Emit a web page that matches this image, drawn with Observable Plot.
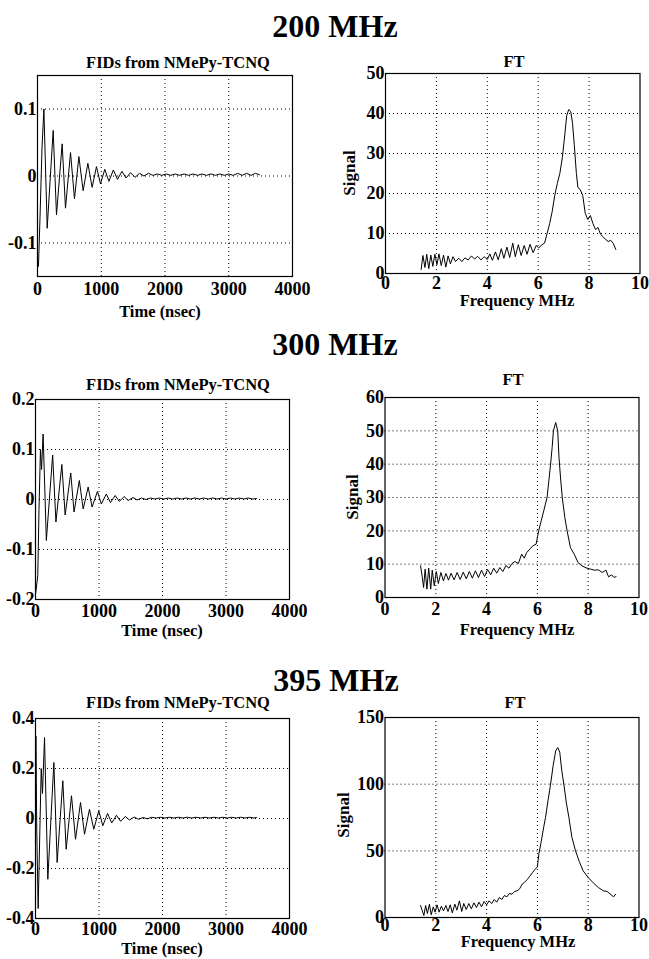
<!DOCTYPE html>
<html>
<head>
<meta charset="utf-8">
<script src="https://cdn.jsdelivr.net/npm/d3@7"></script>
<script src="https://cdn.jsdelivr.net/npm/@observablehq/plot@0.6"></script>
<style>
  html, body { margin: 0; padding: 0; background: #fff; }
  #page { position: relative; width: 649px; height: 959px; background: #fff; overflow: hidden; }
  .panelwrap { position: absolute; }
  .panelwrap svg { overflow: visible; background: transparent; }
  .panelwrap text { font-family: "Liberation Serif", "Times New Roman", serif; font-weight: bold; font-size: 18px; fill: #000; }
  #overlay { position: absolute; left: 0; top: 0; pointer-events: none; }
</style>
</head>
<body>
<div id="page"></div>
<script>
// ---------- DATA ----------
const rowTitles = ["200 MHz", "300 MHz", "395 MHz"];
const fidTitle = "FIDs from NMePy-TCNQ";
const ftTitle = "FT";
const fidXLabel = "Time (nsec)";
const ftXLabel = "Frequency MHz";
const ftYLabel = "Signal";

const fidXTicks = [0, 1000, 2000, 3000, 4000];
const ftXTicks = [0, 2, 4, 6, 8, 10];
const fid200YTicks = [-0.1, 0, 0.1];
const fid300YTicks = [-0.2, -0.1, 0, 0.1, 0.2];
const fid395YTicks = [-0.4, -0.2, 0, 0.2, 0.4];
const ft200YTicks = [0, 10, 20, 30, 40, 50];
const ft300YTicks = [0, 10, 20, 30, 40, 50, 60];
const ft395YTicks = [0, 50, 100, 150];

// FID 200 MHz: time (ns) and amplitude
const fid200T = [0, 15, 40, 70, 100, 152, 246, 298, 387, 439, 518, 580, 649, 716, 790, 857, 925, 988, 1055, 1120, 1190, 1255, 1325, 1390, 1460, 1530, 1600, 1670, 1740, 1810, 1880, 1950, 2020, 2090, 2160, 2230, 2300, 2370, 2440, 2510, 2580, 2650, 2720, 2790, 2860, 2930, 3000, 3070, 3140, 3210, 3280, 3350, 3420, 3480];
const fid200V = [-0.13, -0.135, -0.06, 0.04, 0.10, -0.078, 0.068, -0.058, 0.048, -0.048, 0.035, -0.034, 0.029, -0.022, 0.019, -0.017, 0.014, -0.012, 0.010, -0.008, 0.009, -0.005, 0.007, -0.003, 0.005, -0.002, 0.004, 0.000, 0.004, 0.001, 0.003, 0.001, 0.003, 0.001, 0.003, 0.001, 0.003, 0.001, 0.003, 0.001, 0.003, 0.001, 0.003, 0.001, 0.003, 0.001, 0.003, 0.001, 0.004, 0.001, 0.004, 0.001, 0.004, 0.002];

// FID 300 MHz
const fid300T = [0, 15, 36, 55, 78, 95, 120, 171, 270, 322, 415, 467, 555, 607, 690, 751, 829, 891, 975, 1037, 1115, 1180, 1255, 1320, 1395, 1460, 1535, 1600, 1670, 1740, 1810, 1880, 1950, 2020, 2090, 2160, 2230, 2300, 2370, 2440, 2510, 2580, 2650, 2720, 2790, 2860, 2930, 3000, 3070, 3140, 3210, 3280, 3350, 3420, 3480];
const fid300V = [-0.19, -0.175, -0.152, -0.02, 0.10, 0.06, 0.131, -0.082, 0.089, -0.045, 0.070, -0.031, 0.053, -0.025, 0.038, -0.019, 0.025, -0.015, 0.016, -0.009, 0.011, -0.006, 0.008, -0.004, 0.006, -0.002, 0.004, -0.001, 0.003, 0.000, 0.003, 0.001, 0.003, 0.001, 0.003, 0.001, 0.003, 0.001, 0.003, 0.001, 0.003, 0.001, 0.003, 0.001, 0.003, 0.001, 0.003, 0.001, 0.003, 0.001, 0.003, 0.001, 0.003, 0.001, 0.002];

// FID 395 MHz
const fid395T = [0, 6, 20, 42, 90, 110, 142, 194, 289, 341, 430, 483, 567, 630, 709, 772, 850, 918, 997, 1060, 1135, 1200, 1275, 1340, 1415, 1480, 1555, 1620, 1695, 1760, 1830, 1900, 1970, 2040, 2110, 2180, 2250, 2320, 2390, 2460, 2530, 2600, 2670, 2740, 2810, 2880, 2950, 3020, 3090, 3160, 3230, 3300, 3370, 3440, 3480];
const fid395V = [0.0, 0.33, -0.05, -0.36, 0.20, 0.10, 0.324, -0.243, 0.224, -0.176, 0.151, -0.123, 0.091, -0.083, 0.064, -0.063, 0.037, -0.043, 0.031, -0.029, 0.020, -0.018, 0.013, -0.011, 0.008, -0.006, 0.006, -0.003, 0.004, -0.001, 0.005, 0.002, 0.005, 0.002, 0.005, 0.002, 0.005, 0.002, 0.005, 0.002, 0.005, 0.002, 0.005, 0.002, 0.005, 0.002, 0.005, 0.002, 0.005, 0.002, 0.005, 0.002, 0.005, 0.002, 0.004];

// FT 200 MHz: frequency (MHz) and signal
const ft200F = [1.40, 1.47, 1.55, 1.62, 1.70, 1.78, 1.86, 1.94, 2.02, 2.10, 2.19, 2.28, 2.37, 2.46, 2.55, 2.65, 2.75, 2.88, 3.00, 3.12, 3.25, 3.38, 3.50, 3.62, 3.75, 3.88, 4.00, 4.10, 4.20, 4.32, 4.43, 4.55, 4.65, 4.77, 4.88, 5.00, 5.10, 5.22, 5.33, 5.45, 5.56, 5.68, 5.80, 5.92, 6.02, 6.15, 6.25, 6.35, 6.45, 6.55, 6.65, 6.75, 6.85, 6.95, 7.05, 7.12, 7.20, 7.28, 7.35, 7.42, 7.50, 7.56, 7.65, 7.75, 7.85, 7.95, 8.05, 8.15, 8.25, 8.35, 8.45, 8.55, 8.65, 8.75, 8.85, 8.95, 9.05];
const ft200S = [1.0, 4.5, 1.5, 4.8, 1.2, 4.6, 1.8, 4.8, 2.2, 4.9, 2.0, 4.6, 1.6, 4.4, 2.4, 4.2, 3.0, 3.8, 3.0, 3.9, 3.4, 4.4, 3.6, 4.3, 3.4, 4.2, 3.5, 4.9, 3.3, 5.4, 3.4, 6.2, 3.8, 6.6, 4.0, 7.6, 4.2, 7.2, 4.5, 7.0, 4.8, 7.3, 5.2, 7.0, 6.4, 7.2, 7.6, 10, 12.5, 15.5, 19.5, 22.5, 25, 29, 35, 39.5, 41, 40.5, 37.5, 32, 25, 21.5, 21, 19.5, 15, 13.5, 14.5, 12.5, 11, 11.5, 9.8, 9.2, 8.5, 8.0, 8.3, 7.5, 6.0];

// FT 300 MHz
const ft300F = [1.40, 1.47, 1.52, 1.58, 1.65, 1.72, 1.80, 1.86, 1.94, 2.02, 2.10, 2.20, 2.30, 2.40, 2.50, 2.60, 2.72, 2.84, 2.96, 3.08, 3.20, 3.32, 3.44, 3.56, 3.68, 3.80, 3.92, 4.04, 4.16, 4.28, 4.40, 4.52, 4.64, 4.76, 4.88, 5.00, 5.12, 5.25, 5.38, 5.48, 5.58, 5.70, 5.82, 5.95, 6.05, 6.15, 6.25, 6.38, 6.45, 6.52, 6.58, 6.63, 6.72, 6.80, 6.85, 6.92, 6.98, 7.08, 7.17, 7.30, 7.45, 7.60, 7.75, 7.95, 8.10, 8.25, 8.40, 8.55, 8.70, 8.80, 8.92, 9.02, 9.10];
const ft300S = [9.5, 6, 3, 8.5, 2.5, 8.8, 2.5, 8.2, 3.5, 7.8, 4.2, 7.5, 5.0, 7.2, 5.2, 7.3, 5.3, 7.5, 5.4, 7.6, 5.6, 7.8, 5.8, 8.0, 6.0, 8.2, 6.3, 8.4, 6.8, 8.8, 7.3, 9.0, 7.8, 9.6, 8.8, 10.2, 10.8, 10.2, 13, 11.8, 13.5, 14.5, 15.5, 16, 20, 23, 26, 30, 35, 40, 45, 50, 52.5, 50, 42, 35, 30, 24, 20, 15, 13, 10.5, 9.5, 8.8, 8.5, 8.2, 8.3, 7.5, 8.2, 6.2, 6.8, 6.0, 6.3];

// FT 395 MHz
const ft395F = [1.40, 1.47, 1.53, 1.60, 1.67, 1.75, 1.82, 1.90, 1.97, 2.05, 2.13, 2.22, 2.30, 2.40, 2.48, 2.57, 2.65, 2.75, 2.83, 2.93, 3.02, 3.10, 3.20, 3.30, 3.40, 3.50, 3.60, 3.70, 3.80, 3.90, 4.00, 4.10, 4.20, 4.30, 4.40, 4.50, 4.60, 4.70, 4.80, 4.90, 5.00, 5.10, 5.20, 5.30, 5.40, 5.50, 5.60, 5.70, 5.80, 5.90, 6.00, 6.06, 6.15, 6.25, 6.32, 6.42, 6.52, 6.62, 6.72, 6.80, 6.88, 6.96, 7.04, 7.14, 7.24, 7.36, 7.50, 7.65, 7.80, 8.00, 8.20, 8.40, 8.60, 8.75, 8.90, 9.00, 9.08];
const ft395S = [9, 5, 1.5, 9, 3, 10, 2, 8, 4, 9.5, 4, 8.5, 5, 9, 4.5, 9.5, 3.5, 10, 5.5, 12.5, 4.5, 10.5, 6, 10.5, 6.5, 11, 7.5, 11.5, 8, 12, 9.5, 12.5, 10.5, 13.5, 11.5, 15, 13.5, 16.5, 15.5, 18, 17.5, 19.5, 20, 21.5, 25, 26.5, 28.5, 31, 33.5, 36, 38, 48, 57, 68, 75, 88, 100, 114, 125, 127.5, 124, 110, 100, 86, 75, 60, 50, 42, 35, 30, 26, 22.5, 20, 19.5, 17, 15.5, 17.5];

// ---------- DRAWING ----------
const page = document.getElementById("page");
const zip = (a, b) => a.map((v, i) => ({x: v, y: b[i]}));

function panel(opts) {
  const {x0, x1, y0, y1, svgLeft, svgWidth, xDomain, xTicks, yDomain, yTicks, data, xPad} = opts;
  const mt = 12, mb = 30;
  const dotted = {stroke: "#000", strokeWidth: 1, strokeDasharray: "1,3"};
  const chart = Plot.plot({
    width: svgWidth,
    height: (y1 - y0) + mt + mb,
    marginLeft: x0 - svgLeft,
    marginRight: svgLeft + svgWidth - x1,
    marginTop: mt,
    marginBottom: mb,
    style: {background: "transparent", overflow: "visible"},
    x: {domain: xDomain, ticks: xTicks, tickFormat: d => String(d), tickSize: 0, tickPadding: xPad, label: null},
    y: {domain: yDomain, ticks: yTicks, tickFormat: d => String(d), tickSize: 0, tickPadding: 1, label: null},
    marks: [
      Plot.ruleX(xTicks.slice(1, -1), dotted),
      Plot.ruleY(yTicks.filter(v => v > yDomain[0] && v < yDomain[1]), dotted),
      Plot.line(data, {x: "x", y: "y", stroke: "#000", strokeWidth: 1}),
      Plot.frame({stroke: "#000", strokeWidth: 1.2})
    ]
  });
  const wrap = document.createElement("div");
  wrap.className = "panelwrap";
  wrap.style.left = svgLeft + "px";
  wrap.style.top = (y0 - mt) + "px";
  wrap.appendChild(chart);
  page.appendChild(wrap);
}

// Row 1
panel({x0: 385, x1: 639.5, y0: 73, y1: 273, svgLeft: 320, svgWidth: 329, xDomain: [0, 10], xTicks: ftXTicks, yDomain: [0, 50], yTicks: ft200YTicks, data: zip(ft200F, ft200S), xPad: 3});
panel({x0: 37, x1: 292, y0: 75, y1: 276, svgLeft: 0, svgWidth: 320, xDomain: [0, 4000], xTicks: fidXTicks, yDomain: [-0.15, 0.15], yTicks: fid200YTicks, data: zip(fid200T, fid200V), xPad: 6});
// Row 2
panel({x0: 35, x1: 289, y0: 399, y1: 599, svgLeft: 0, svgWidth: 320, xDomain: [0, 4000], xTicks: fidXTicks, yDomain: [-0.2, 0.2], yTicks: fid300YTicks, data: zip(fid300T, fid300V), xPad: 5});
panel({x0: 384.5, x1: 638.5, y0: 397, y1: 597, svgLeft: 320, svgWidth: 329, xDomain: [0, 10], xTicks: ftXTicks, yDomain: [0, 60], yTicks: ft300YTicks, data: zip(ft300F, ft300S), xPad: 5});
// Row 3
panel({x0: 35, x1: 289, y0: 718, y1: 918, svgLeft: 0, svgWidth: 320, xDomain: [0, 4000], xTicks: fidXTicks, yDomain: [-0.4, 0.4], yTicks: fid395YTicks, data: zip(fid395T, fid395V), xPad: 4});
panel({x0: 384.5, x1: 638.5, y0: 717, y1: 917, svgLeft: 320, svgWidth: 329, xDomain: [0, 10], xTicks: ftXTicks, yDomain: [0, 150], yTicks: ft395YTicks, data: zip(ft395F, ft395S), xPad: 1});

// Titles and axis labels
const labels = [
  {t: rowTitles[0], x: 335, y: 37, s: 32},
  {t: fidTitle, x: 178, y: 68, s: 16.5},
  {t: ftTitle, x: 514, y: 67, s: 16.5},
  {t: fidXLabel, x: 160, y: 317, s: 16.5},
  {t: ftXLabel, x: 517, y: 306, s: 16.5},
  {t: ftYLabel, x: 355, y: 173, s: 17, r: true},

  {t: rowTitles[1], x: 335, y: 355, s: 32},
  {t: fidTitle, x: 178, y: 390, s: 16.5},
  {t: ftTitle, x: 513, y: 385, s: 16.5},
  {t: fidXLabel, x: 162, y: 636, s: 16.5},
  {t: ftXLabel, x: 517, y: 635, s: 16.5},
  {t: ftYLabel, x: 358, y: 497, s: 17, r: true},

  {t: rowTitles[2], x: 336, y: 691, s: 32},
  {t: fidTitle, x: 178, y: 708, s: 16.5},
  {t: ftTitle, x: 515, y: 708, s: 16.5},
  {t: fidXLabel, x: 162, y: 954, s: 16.5},
  {t: ftXLabel, x: 518, y: 947, s: 16.5},
  {t: ftYLabel, x: 349, y: 815, s: 17, r: true}
];

const overlay = d3.select(page).append("svg")
  .attr("id", "overlay")
  .attr("width", 649).attr("height", 959);
overlay.selectAll("text").data(labels).join("text")
  .attr("text-anchor", "middle")
  .attr("transform", d => d.r ? `translate(${d.x},${d.y}) rotate(-90)` : `translate(${d.x},${d.y})`)
  .style("font-family", "'Liberation Serif', 'Times New Roman', serif")
  .style("font-weight", "bold")
  .style("font-size", d => d.s + "px")
  .style("fill", "#000")
  .text(d => d.t);
</script>
</body>
</html>
